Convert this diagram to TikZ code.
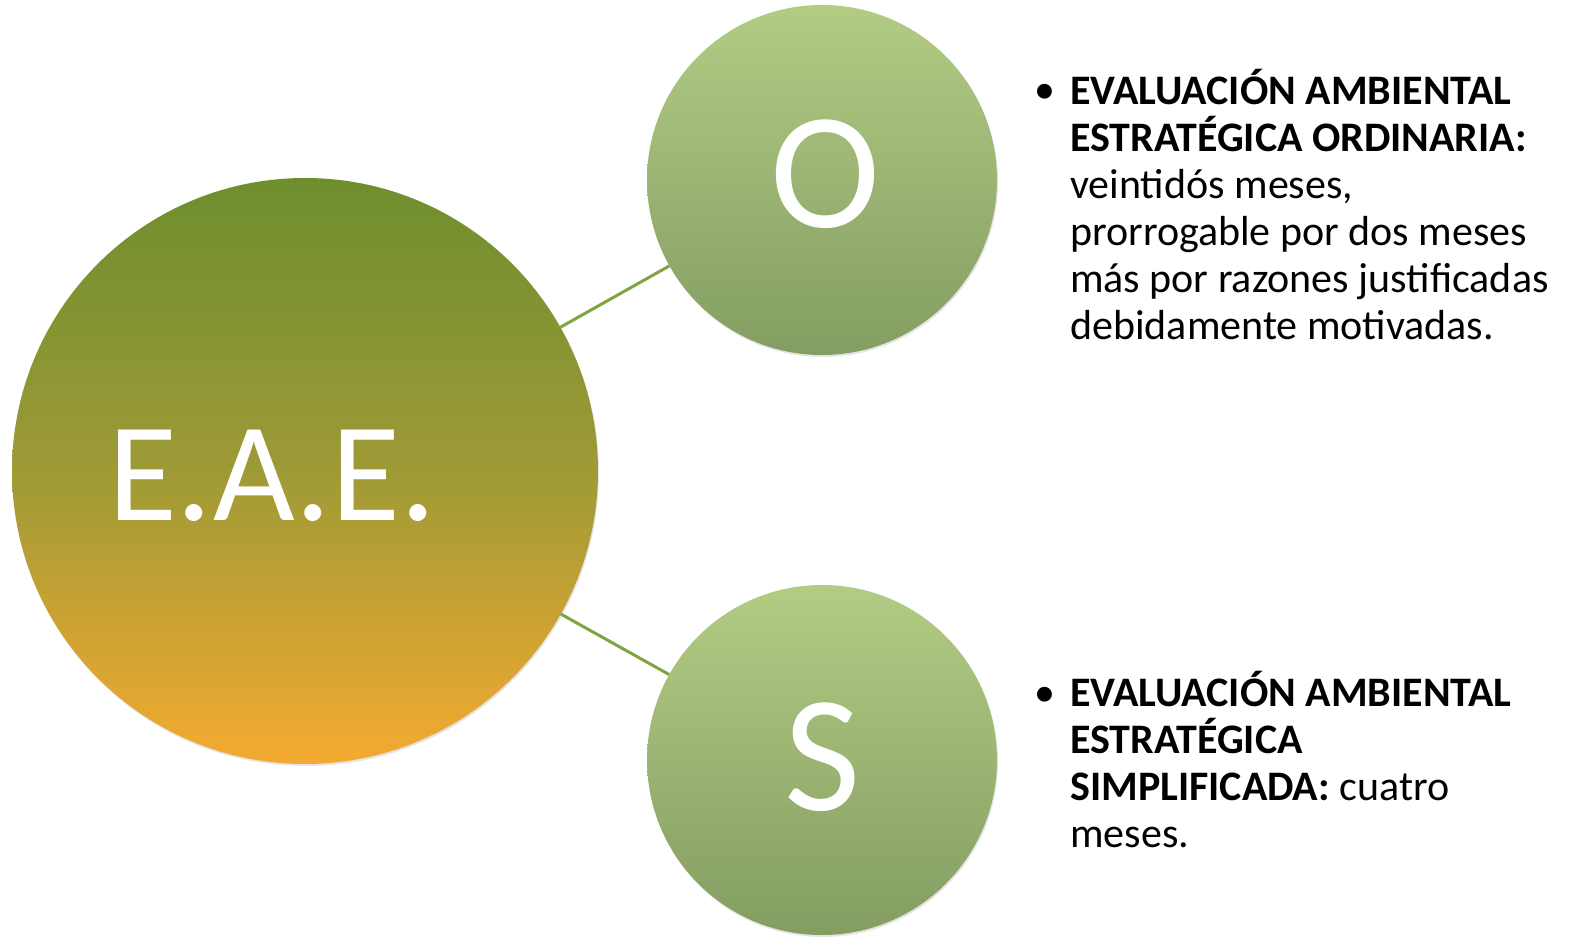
\documentclass[tikz,border=0pt]{standalone}
\usepackage{fontspec}
\setmainfont{Carlito}
\usetikzlibrary{shadows}
\definecolor{bigtop}{RGB}{110,142,46}
\definecolor{bigmid}{RGB}{158,154,54}
\definecolor{bigbot}{RGB}{245,170,48}
\definecolor{smtop}{RGB}{178,204,132}
\definecolor{smbot}{RGB}{132,157,98}
\definecolor{linkc}{RGB}{128,165,64}
\tikzset{
  bigc/.style={circle, inner sep=0pt, minimum size=586pt, top color=bigtop, bottom color=bigbot, middle color=bigmid,
    drop shadow={shadow xshift=1pt, shadow yshift=-2pt, opacity=0.2}},
  smc/.style={circle, inner sep=0pt, minimum size=350pt, top color=smtop, bottom color=smbot,
    drop shadow={shadow xshift=1pt, shadow yshift=-2pt, opacity=0.2}},
  letter/.style={inner sep=0pt, text=white},
  link/.style={draw=linkc, line width=3pt},
  txt/.style={align=left, inner sep=0pt, font=\fontsize{42}{47}\selectfont, text=black},
  bul/.style={inner sep=0pt, font=\fontsize{42}{47}\selectfont, text=black}
}
\begin{document}
\begin{tikzpicture}[x=1pt,y=-1pt]
\useasboundingbox[fill=white] (0,0) rectangle (1577,944);
\node[bigc] (eae) at (305,471) {};
\node[smc] (o) at (822,180) {};
\node[smc] (s) at (822,760) {};
\draw[link] (eae) -- (o);
\draw[link] (eae) -- (s);
\node[letter, anchor=base, font=\fontsize{141}{150}\selectfont] (eaet) at (272,520) {E.A.E.};
\node[letter, anchor=base, font=\fontsize{166}{170}\selectfont] (ot) at (825,228) {O};
\node[letter, anchor=base, font=\fontsize{166}{170}\selectfont] (st) at (823,810) {S};
\node[bul, anchor=base west] (b1) at (1034,104) {•};
\node[txt, anchor=base west] (t1) at (1070,339) {\textbf{EVALUACIÓN AMBIENTAL}\\\textbf{ESTRATÉGICA ORDINARIA:}\\veintidós meses,\\prorrogable por dos meses\\más por razones justificadas\\debidamente motivadas.};
\node[bul, anchor=base west] (b2) at (1034,706) {•};
\node[txt, anchor=base west] (t2) at (1070,847) {\textbf{EVALUACIÓN AMBIENTAL}\\\textbf{ESTRATÉGICA}\\\textbf{SIMPLIFICADA:} cuatro\\meses.};
\end{tikzpicture}
\end{document}
